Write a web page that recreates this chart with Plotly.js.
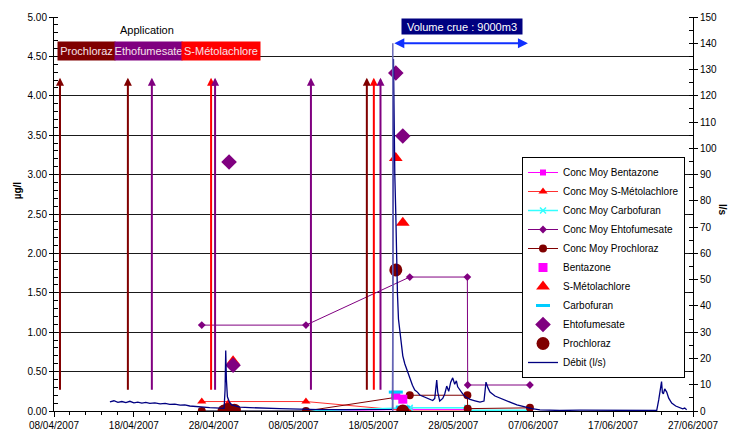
<!DOCTYPE html>
<html><head><meta charset="utf-8">
<script src="https://cdn.plot.ly/plotly-3.0.1.min.js"></script>
<style>html,body{margin:0;padding:0;background:#fff}#chart{width:732px;height:430px}</style>
</head><body><div id="chart"></div>
<script>
// ---------- Débit (l/s) ----------
var debitTime = ['2007-04-15 00:00','2007-04-15 12:00','2007-04-16 00:00','2007-04-16 12:00','2007-04-17 00:00','2007-04-17 12:00','2007-04-18 00:00','2007-04-18 12:00','2007-04-19 00:00','2007-04-19 12:00','2007-04-20 00:00','2007-04-20 15:00','2007-04-21 07:00','2007-04-21 22:00','2007-04-22 12:00','2007-04-23 03:00','2007-04-23 19:00','2007-04-24 09:00','2007-04-25 00:00','2007-04-25 15:00','2007-04-26 07:00','2007-04-26 22:00','2007-04-27 12:00','2007-04-28 04:00','2007-04-28 19:00','2007-04-29 07:00','2007-04-29 10:00','2007-04-29 12:00','2007-04-29 14:00','2007-04-29 17:00','2007-04-29 23:00','2007-04-30 06:00','2007-04-30 19:00','2007-05-01 07:00','2007-05-02 13:00','2007-05-03 19:00','2007-05-05 01:00','2007-05-06 07:00','2007-05-07 13:00','2007-05-08 19:00','2007-05-10 01:00','2007-05-11 07:00','2007-05-12 13:00','2007-05-13 19:00','2007-05-15 01:00','2007-05-16 07:00','2007-05-17 13:00','2007-05-18 19:00','2007-05-19 19:00','2007-05-20 09:00','2007-05-20 12:00','2007-05-20 14:00','2007-05-20 16:00','2007-05-20 19:00','2007-05-20 21:00','2007-05-21 00:00','2007-05-21 03:00','2007-05-21 07:00','2007-05-21 10:00','2007-05-21 16:00','2007-05-21 22:00','2007-05-22 07:00','2007-05-22 13:00','2007-05-22 21:00','2007-05-23 04:00','2007-05-23 12:00','2007-05-23 19:00','2007-05-24 10:00','2007-05-25 01:00','2007-05-25 10:00','2007-05-25 16:00','2007-05-25 19:00','2007-05-25 22:00','2007-05-26 01:00','2007-05-26 07:00','2007-05-26 16:00','2007-05-26 22:00','2007-05-27 04:00','2007-05-27 10:00','2007-05-27 16:00','2007-05-27 22:00','2007-05-28 04:00','2007-05-28 09:00','2007-05-28 13:00','2007-05-28 19:00','2007-05-29 04:00','2007-05-29 13:00','2007-05-30 02:00','2007-05-30 17:00','2007-05-31 08:00','2007-05-31 20:00','2007-06-01 02:00','2007-06-01 08:00','2007-06-01 14:00','2007-06-02 05:00','2007-06-02 20:00','2007-06-03 11:00','2007-06-04 02:00','2007-06-04 23:00','2007-06-05 23:00','2007-06-06 20:00','2007-06-07 20:00','2007-06-10 08:00','2007-06-12 20:00','2007-06-15 08:00','2007-06-17 20:00','2007-06-20 08:00','2007-06-22 11:00','2007-06-22 17:00','2007-06-22 23:00','2007-06-23 01:30','2007-06-23 04:00','2007-06-23 07:00','2007-06-23 11:00','2007-06-23 17:00','2007-06-23 23:00','2007-06-24 08:00','2007-06-24 20:00','2007-06-25 08:00','2007-06-25 17:00','2007-06-25 23:00','2007-06-26 05:00'];
var debitValue = [3.5,3.9,3.3,3.6,3.2,3.7,3.1,3.4,3.0,3.3,2.9,3.1,2.7,2.9,2.5,2.6,2.2,2.3,1.9,1.7,1.6,1.4,1.3,1.2,1.1,1.0,8,23,12,5.4,3.4,2.3,1.9,1.5,1.3,1.1,1.0,0.9,0.8,0.8,0.6,0.5,0.5,0.4,0.4,0.4,0.4,0.4,0.5,0.6,134,105,90,75,60,44.5,35,30,26,21,18,14.5,12,9.8,8,7.2,6.1,5.3,4.6,4.0,4.8,8,11.8,7.2,3.8,4.8,6.5,9.5,7.5,11,12.6,10.2,11.5,9.2,8,6.5,5.3,4.4,3.9,3.4,3.8,11,8.8,7.2,5.7,4.9,3.9,3.4,2.3,1.5,0.9,0.4,0.2,0.3,0.2,0.2,0.2,0.2,4.2,8.8,11.2,7,6.5,8.4,7.2,4.9,3.0,1.9,1.1,0.8,1.1,0.5];

// ---------- Concentrations moyennes (µg/l) ----------
var moyDates = ['2007-04-26 12:00','2007-05-09 13:00','2007-05-22 13:00','2007-05-29 18:00','2007-05-29 19:00','2007-06-06 14:00'];
var moyBentazone    = [0, 0, 0.02, 0.02, 0, 0];
var moyMetolachlore = [0.12, 0.12, 0, 0, 0, 0];
var moyCarbofuran   = [0, 0, 0.04, 0.04, 0.01, 0.01];
var moyEthofumesate = [1.09, 1.09, 1.70, 1.70, 0.33, 0.33];
var moyProchloraz   = [0, 0, 0.2, 0.2, 0.03, 0.04];

// ---------- Prélèvements ponctuels (µg/l) ----------
var bentazoneDates = ['2007-04-29 19:00','2007-04-30 10:00','2007-05-20 19:00','2007-05-21 16:00'];
var bentazoneVals  = [0, 0, 0.2, 0.15];
var metolachloreDates = ['2007-04-29 19:00','2007-04-30 10:00','2007-05-20 19:00','2007-05-21 16:00'];
var metolachloreVals  = [0.07, 0.63, 3.21, 2.39];
var carbofuranDates = ['2007-04-29 19:00','2007-04-30 10:00','2007-05-20 19:00','2007-05-21 16:00'];
var carbofuranVals  = [0, 0, 0.24, 0.05];
var ethofumesateDates = ['2007-04-29 22:00','2007-04-30 10:00','2007-05-20 19:00','2007-05-21 16:00'];
var ethofumesateVals  = [3.16, 0.58, 4.29, 3.49];
var prochlorazDates = ['2007-04-29 07:00','2007-04-29 19:00','2007-04-30 04:00','2007-04-30 14:00','2007-05-20 19:00','2007-05-21 16:00'];
var prochlorazVals  = [0, 0.02, 0, 0.01, 1.79, 0];

// ---------- Applications ----------
var appDates    = ['2007-04-08 18:00','2007-04-17 06:00','2007-04-20 06:00','2007-04-27 16:00','2007-04-28 04:00','2007-05-10 04:00','2007-05-17 04:00','2007-05-18 01:00','2007-05-18 21:00'];
var appProducts = ['Prochloraz','Prochloraz','Ethofumesate','S-Métolachlore','Ethofumesate','Ethofumesate','Prochloraz','S-Métolachlore','Ethofumesate'];
var appLow = 0.25, appHigh = 4.23;
var productColors = {'Prochloraz':'#800000','Ethofumesate':'#800080','S-Métolachlore':'#ff0000'};
var productLabels = ['Prochloraz','Ethofumesate','S-Métolachlore'];

// ---------- Crue ----------
var crueStart = '2007-05-20 10:00', crueEnd = '2007-06-06 08:00', crueLevel = 140;
var crueLabel = 'Volume crue : 9000m3';

var traces = [
  {name:'Conc Moy Bentazone', x:moyDates, y:moyBentazone, mode:'lines+markers', line:{color:'#ff00ff',width:1}, marker:{symbol:'square',size:6,color:'#ff00ff'}},
  {name:'Conc Moy S-Métolachlore', x:moyDates, y:moyMetolachlore, mode:'lines+markers', line:{color:'#ff3030',width:1}, marker:{symbol:'triangle-up',size:8,color:'#ff0000'}},
  {name:'Conc Moy Carbofuran', x:moyDates, y:moyCarbofuran, mode:'lines+markers', line:{color:'#33ffff',width:1.5}, marker:{symbol:'x-thin',size:6,color:'#33ffff',line:{color:'#33ffff',width:1.5}}},
  {name:'Conc Moy Ehtofumesate', x:moyDates, y:moyEthofumesate, mode:'lines+markers', line:{color:'#800080',width:1}, marker:{symbol:'diamond',size:6,color:'#800080'}},
  {name:'Conc Moy Prochloraz', x:moyDates, y:moyProchloraz, mode:'lines+markers', line:{color:'#800000',width:1}, marker:{symbol:'circle',size:8,color:'#800000'}},
  {name:'Bentazone', x:bentazoneDates, y:bentazoneVals, mode:'markers', marker:{symbol:'square',size:9,color:'#ff00ff'}},
  {name:'S-Métolachlore', x:metolachloreDates, y:metolachloreVals, mode:'markers', marker:{symbol:'triangle-up',size:12,color:'#ff0000'}},
  {name:'Carbofuran', x:carbofuranDates, y:carbofuranVals, mode:'markers', marker:{symbol:'line-ew',size:10,color:'#00ccff',line:{color:'#00ccff',width:3}}},
  {name:'Ehtofumesate', x:ethofumesateDates, y:ethofumesateVals, mode:'markers', marker:{symbol:'diamond',size:12,color:'#800080'}},
  {name:'Prochloraz', x:prochlorazDates, y:prochlorazVals, mode:'markers', marker:{symbol:'circle',size:13,color:'#800000'}},
  {name:'Débit (l/s)', x:debitTime, y:debitValue, yaxis:'y2', mode:'lines', line:{color:'#000080',width:1.3}}
];

var annotations = [];
for (var i=0;i<appDates.length;i++){
  annotations.push({x:appDates[i], y:appHigh, xref:'x', yref:'y', ax:appDates[i], ay:appLow, axref:'x', ayref:'y',
    text:'', showarrow:true, arrowhead:2, arrowsize:0.8, arrowwidth:2, arrowcolor:productColors[appProducts[i]]});
}
annotations.push({xref:'paper', yref:'paper', x:0.145, y:0.967, xanchor:'center', yanchor:'middle', text:'Application', showarrow:false, font:{size:11,color:'#000'}});
var boxX = [57,114,181], boxW = [57,67,78];
for (var j=0;j<productLabels.length;j++){
  annotations.push({xref:'paper', yref:'paper', x:(boxX[j]-54)/639, y:0.9137, xanchor:'left', yanchor:'middle',
    text:productLabels[j], showarrow:false, width:boxW[j], height:18, borderpad:0,
    bgcolor:productColors[productLabels[j]], font:{size:11,color:'#f6e2ea'}});
}
annotations.push({xref:'paper', yref:'paper', x:(401-54)/639, y:0.976, xanchor:'left', yanchor:'middle',
  text:crueLabel, showarrow:false, width:120, height:15, borderpad:0, bgcolor:'#000080', font:{size:11,color:'#ffffff'}});
annotations.push({x:crueEnd, y:crueLevel, xref:'x', yref:'y2', ax:crueStart, ay:crueLevel, axref:'x', ayref:'y2',
  text:'', showarrow:true, arrowhead:2, startarrowhead:2, arrowside:'end+start', arrowsize:1, startarrowsize:1, arrowwidth:2, arrowcolor:'#1030ff'});
annotations.push({xref:'paper', yref:'paper', x:(17-54)/639, y:0.56, xanchor:'center', yanchor:'middle', text:'<b>µg/l</b>', textangle:-90, showarrow:false, font:{size:10}});
annotations.push({xref:'paper', yref:'paper', x:(723-54)/639, y:0.51, xanchor:'center', yanchor:'middle', text:'<b>l/s</b>', textangle:90, showarrow:false, font:{size:10}});

var layout = {
  width:732, height:430,
  margin:{l:54, r:39, t:17, b:19},
  paper_bgcolor:'#ffffff', plot_bgcolor:'#ffffff',
  font:{family:'Arial, "Liberation Sans", sans-serif', size:10, color:'#000'},
  showlegend:true,
  legend:{x:(522-54)/639, y:(411-157)/394, xanchor:'left', yanchor:'top', bgcolor:'#ffffff', bordercolor:'#000', borderwidth:1,
    font:{size:10}, traceorder:'normal', itemwidth:30, tracegroupgap:0},
  xaxis:{type:'date', range:['2007-04-08','2007-06-27'], tick0:'2007-04-08', dtick:864000000, tickformat:'%d/%m/%Y',
    ticks:'outside', ticklen:5, tickcolor:'#000', showline:true, linecolor:'#000', linewidth:1, showgrid:false, zeroline:false,
    minor:{dtick:172800000, ticks:'outside', ticklen:3, tickcolor:'#000', showgrid:false}},
  yaxis:{range:[0,5], dtick:0.5, tickformat:'.2f', ticks:'outside', ticklen:4, tickcolor:'#000', showline:true, linecolor:'#000',
    showgrid:true, gridcolor:'#1a1a1a', gridwidth:1, zeroline:false,
    minor:{dtick:0.1, ticks:'inside', ticklen:4, tickcolor:'#000', showgrid:false}},
  yaxis2:{overlaying:'y', side:'right', range:[0,150], dtick:10, ticks:'outside', ticklen:4, tickcolor:'#000', showline:true, linecolor:'#000',
    showgrid:false, zeroline:false, minor:{dtick:5, ticks:'inside', ticklen:4, tickcolor:'#000', showgrid:false}},
  shapes:[{type:'line', xref:'x', yref:'y2', x0:crueStart, x1:crueStart, y0:0, y1:crueLevel, line:{color:'#6a6ab8', width:1.5}}],
  annotations:annotations
};
Plotly.newPlot('chart', traces, layout, {displayModeBar:false, staticPlot:true});
</script></body></html>
